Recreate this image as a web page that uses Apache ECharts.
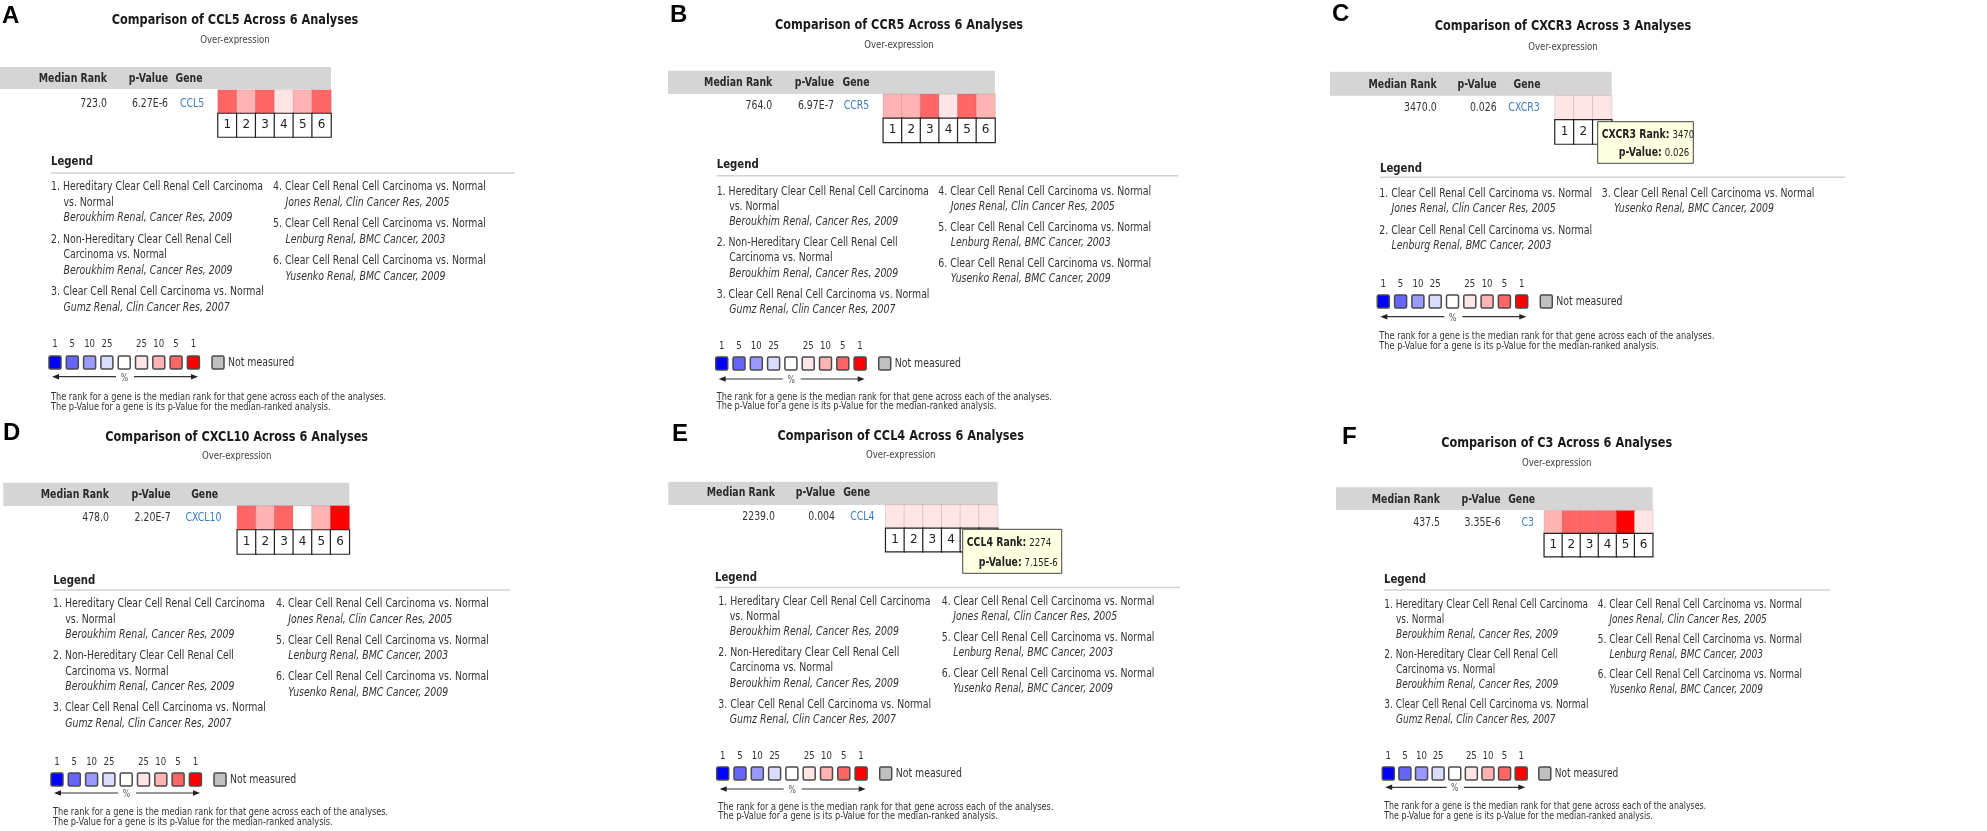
<!DOCTYPE html>
<html><head><meta charset="utf-8">
<script src="https://cdn.jsdelivr.net/npm/echarts@6/dist/echarts.min.js"></script>
<style>html,body{margin:0;padding:0;background:#fff;}#c{width:1987px;height:831px;}</style>
</head><body><div id="c"></div>
<script>
// ---------------- data ----------------
const panelLetters = ['A', 'B', 'C', 'D', 'E', 'F'];
const genes = ['CCL5', 'CCR5', 'CXCR3', 'CXCL10', 'CCL4', 'C3'];
const analysisCounts = [6, 6, 3, 6, 6, 6];
const medianRanks = ['723.0', '764.0', '3470.0', '478.0', '2239.0', '437.5'];
const pValues = ['6.27E-6', '6.97E-7', '0.026', '2.20E-7', '0.004', '3.35E-6'];
// percentile bin of the gene in each analysis (1, 5, 10, 25 = top %; 100 = outside top 25%)
const binsCCL5 = [5, 10, 5, 25, 10, 5];
const binsCCR5 = [10, 10, 5, 25, 5, 10];
const binsCXCR3 = [25, 25, 25];
const binsCXCL10 = [5, 10, 5, 100, 10, 1];
const binsCCL4 = [25, 25, 25, 25, 25, 25];
const binsC3 = [10, 5, 5, 5, 1, 25];
const analysisLabels = ['1', '2', '3', '4', '5', '6'];
const tooltipGenes = ['CXCR3', 'CCL4'];
const tooltipRanks = ['3470', '2274'];
const tooltipPValues = ['0.026', '7.15E-6'];
const scaleTickLabels = ['1', '5', '10', '25', '', '25', '10', '5', '1'];
const legendEntriesSix = [
  ['1. Hereditary Clear Cell Renal Cell Carcinoma', 'vs. Normal', 'Beroukhim Renal, Cancer Res, 2009'],
  ['2. Non-Hereditary Clear Cell Renal Cell', 'Carcinoma vs. Normal', 'Beroukhim Renal, Cancer Res, 2009'],
  ['3. Clear Cell Renal Cell Carcinoma vs. Normal', 'Gumz Renal, Clin Cancer Res, 2007'],
  ['4. Clear Cell Renal Cell Carcinoma vs. Normal', 'Jones Renal, Clin Cancer Res, 2005'],
  ['5. Clear Cell Renal Cell Carcinoma vs. Normal', 'Lenburg Renal, BMC Cancer, 2003'],
  ['6. Clear Cell Renal Cell Carcinoma vs. Normal', 'Yusenko Renal, BMC Cancer, 2009']
];
const legendEntriesThree = [
  ['1. Clear Cell Renal Cell Carcinoma vs. Normal', 'Jones Renal, Clin Cancer Res, 2005'],
  ['2. Clear Cell Renal Cell Carcinoma vs. Normal', 'Lenburg Renal, BMC Cancer, 2003'],
  ['3. Clear Cell Renal Cell Carcinoma vs. Normal', 'Yusenko Renal, BMC Cancer, 2009']
];
const footnoteLines = [
  'The rank for a gene is the median rank for that gene across each of the analyses.',
  'The p-Value for a gene is its p-Value for the median-ranked analysis.'
];

const panelBins = [binsCCL5, binsCCR5, binsCXCR3, binsCXCL10, binsCCL4, binsC3];
const panelLegends = [legendEntriesSix, legendEntriesSix, legendEntriesThree, legendEntriesSix, legendEntriesSix, legendEntriesSix];

// ---------------- layout ----------------
const SX = 0.78;
const FF = "'DejaVu Sans'";
const LAY = [
  {lx:2, ly:16, tx:235, ty:20, sy:40, bar:[0,331,67,89], hy:79, c1:107, c2:168, gh:189, gd:192, ry:103.5, cells:[218,331,90,137], lgx:51, lgy:161.5, rule:173, rx2:515, y0:187, x1:51, x2:273, ind:12.5, lh:15.5, gap:6, sn:344, sq:356, sx0:49, ay:376.7, f1:397, f2:407, k:1},
  {lx:670, ly:15, tx:899, ty:25, sy:45, bar:[668,995,70.7,94], hy:82.7, c1:772.3, c2:834, gh:856, gd:856.5, ry:106, cells:[883.3,995,94.3,142.3], lgx:716.7, lgy:165, rule:175.7, rx2:1178, y0:191.7, x1:716.7, x2:938.3, ind:12.5, lh:15.2, gap:5.8, sn:346, sq:357, sx0:715.7, ay:379, f1:397.3, f2:406.7, k:1},
  {lx:1332, ly:14.5, tx:1563, ty:26.7, sy:46.7, bar:[1330,1611.7,71.7,95.7], hy:85, c1:1436.7, c2:1496.7, gh:1527, gd:1524, ry:107.5, cells:[1555,1611.7,95.7,144], lgx:1380, lgy:168.3, rule:177.3, rx2:1845, y0:194, x1:1379.3, x2:1601.7, ind:12.3, lh:15.3, gap:6, sn:284.3, sq:295, sx0:1377.3, ay:316.7, f1:336, f2:346.7, k:1,
   tip:{k:0, box:[1597.7,1693.3,121.7,163.3], y1:135, y2:153}},
  {lx:3, ly:433, tx:236.7, ty:437.3, sy:455.7, bar:[3.3,349.3,482.7,506], hy:495, c1:109, c2:170.7, gh:204.7, gd:203.5, ry:518, cells:[237.3,349.3,506,554], lgx:53.3, lgy:580.7, rule:590, rx2:510, y0:604, x1:53, x2:276, ind:12.3, lh:15.5, gap:5.5, sn:762, sq:773, sx0:51, ay:793, f1:812, f2:822, k:1},
  {lx:672, ly:434, tx:900.7, ty:436.7, sy:455, bar:[668.3,997.7,481.7,505], hy:492.7, c1:775, c2:835, gh:856.7, gd:862.3, ry:516.7, cells:[885.7,997.7,505,551.7], lgx:715, lgy:578, rule:587.5, rx2:1180, y0:601.7, x1:718.3, x2:941.7, ind:11.5, lh:15.2, gap:5.8, sn:756, sq:767, sx0:716.7, ay:789, f1:807.3, f2:816.7, k:1,
   tip:{k:1, box:[962.7,1061.7,529.3,573.3], y1:543.3, y2:563.3}},
  {lx:1342, ly:437.5, tx:1556.7, ty:443.3, sy:462.7, bar:[1336,1652.7,487.3,510], hy:500, c1:1440, c2:1500.7, gh:1521.7, gd:1527.7, ry:522.5, cells:[1544.3,1652.7,510.7,556.7], lgx:1384, lgy:580, rule:590, rx2:1830, y0:605, x1:1384.3, x2:1597.7, ind:11.7, lh:15, gap:5, sn:755.7, sq:767, sx0:1382.3, ay:787.3, f1:806.7, f2:816, k:0.96}
];
const SWATCH = ['#0000ff','#6666ff','#9999ff','#dcdcff','#ffffff','#ffe5e5','#ffb3b3','#ff6666','#ff0000'];

function T(x, y, text, font, fill, align, sx) {
  return {type:'text', x:x, y:y, scaleX:(sx || SX), silent:true, z:10,
    style:{text:text, font:font, fill:fill || '#333', align:align || 'left', verticalAlign:'middle'}};
}

const graphics = [];
const grids = [], xAxes = [], yAxes = [], series = [], rankSeriesIdx = [];

LAY.forEach(function (p, i) {
  const n = analysisCounts[i];
  const k = p.k, LSX = SX * p.k;
  // panel letter
  graphics.push({type:'text', x:p.lx, y:p.ly, silent:true, z:10,
    style:{text:panelLetters[i], font:"bold 24px 'Liberation Sans'", fill:'#000', align:'left', verticalAlign:'middle'}});
  // title
  graphics.push(T(p.tx, p.ty, 'Comparison of ' + genes[i] + ' Across ' + n + ' Analyses', 'bold 14.5px ' + FF, '#1a1a1a', 'center'));
  graphics.push(T(p.tx, p.sy, 'Over-expression', '11px ' + FF, '#444', 'center'));
  // header bar
  graphics.push({type:'rect', silent:true, z:1, shape:{x:p.bar[0], y:p.bar[2], width:p.bar[1]-p.bar[0], height:p.bar[3]-p.bar[2]}, style:{fill:'#d5d5d5'}});
  graphics.push(T(p.c1, p.hy, 'Median Rank', 'bold 12px ' + FF, '#2a2a2a', 'right'));
  graphics.push(T(p.c2, p.hy, 'p-Value', 'bold 12px ' + FF, '#2a2a2a', 'right'));
  graphics.push(T(p.gh, p.hy, 'Gene', 'bold 12px ' + FF, '#2a2a2a', 'center'));
  // data row
  graphics.push(T(p.c1, p.ry, medianRanks[i], '12px ' + FF, '#333', 'right'));
  graphics.push(T(p.c2, p.ry, pValues[i], '12px ' + FF, '#333', 'right'));
  graphics.push(T(p.gd, p.ry, genes[i], '12px ' + FF, '#3b7bbf', 'center'));

  // heatmap grid
  grids.push({left:p.cells[0], top:p.cells[2], width:p.cells[1]-p.cells[0], height:p.cells[3]-p.cells[2], containLabel:false});
  xAxes.push({gridIndex:i, type:'category', data:analysisLabels.slice(0, n), show:false});
  yAxes.push({gridIndex:i, type:'category', data:['num', 'rank'], show:false});
  rankSeriesIdx.push(series.length);
  series.push({type:'heatmap', xAxisIndex:i, yAxisIndex:i, silent:true,
    data: panelBins[i].map(function (v, j) { return [j, 1, v]; }),
    itemStyle:{borderColor:'rgba(150,100,100,0.22)', borderWidth:1}});
  series.push({type:'heatmap', xAxisIndex:i, yAxisIndex:i, silent:true,
    data: analysisLabels.slice(0, n).map(function (v, j) { return [j, 0, +v]; }),
    itemStyle:{color:'#ffffff', borderColor:'#222', borderWidth:1.2},
    label:{show:true, formatter:function (q) { return String(q.value[2]); }, color:'#222', fontSize:12, fontFamily:'DejaVu Sans'}});

  // tooltip
  if (p.tip) {
    const b = p.tip.box, tk = p.tip.k;
    graphics.push({type:'rect', silent:true, z:100, shape:{x:b[0], y:b[2], width:b[1]-b[0], height:b[3]-b[2]}, style:{fill:'#ffffe1', stroke:'#444', lineWidth:1}});
    const rich = {b:{font:'bold 12px ' + FF, fill:'#222'}, n:{font:'11px ' + FF, fill:'#222'}};
    graphics.push({type:'text', x:b[0]+4, y:p.tip.y1, scaleX:SX, silent:true, z:101,
      style:{text:'{b|' + tooltipGenes[tk] + ' Rank:} {n|' + tooltipRanks[tk] + '}', rich:rich, font:'12px ' + FF, align:'left', verticalAlign:'middle'}});
    graphics.push({type:'text', x:b[1]-4, y:p.tip.y2, scaleX:SX, silent:true, z:101,
      style:{text:'{b|p-Value:} {n|' + tooltipPValues[tk] + '}', rich:rich, font:'12px ' + FF, align:'right', verticalAlign:'middle'}});
  }

  // legend heading + rule
  graphics.push(T(p.lgx, p.lgy, 'Legend', 'bold 13px ' + FF, '#222', 'left'));
  graphics.push({type:'line', silent:true, z:1, shape:{x1:p.lgx, y1:p.rule, x2:p.rx2, y2:p.rule}, style:{stroke:'#d2d2d2', lineWidth:1.6}});

  // legend entries in two columns
  const ent = panelLegends[i];
  const split = Math.ceil(ent.length / 2);
  [ent.slice(0, split), ent.slice(split)].forEach(function (col, c) {
    let y = p.y0;
    const x = c === 0 ? p.x1 : p.x2;
    col.forEach(function (e) {
      e.forEach(function (line, li) {
        const last = li === e.length - 1;
        graphics.push(T(li === 0 ? x : x + p.ind, y, line, (last ? 'italic ' : '') + '12px ' + FF, '#333', 'left', LSX));
        y += p.lh;
      });
      y += p.gap;
    });
  });

  // colour key
  SWATCH.forEach(function (col, s) {
    const sx = p.sx0 + s * 17.3 * k;
    graphics.push({type:'rect', silent:true, z:5, shape:{x:sx, y:p.sq, width:12, height:13, r:1.5}, style:{fill:col, stroke:'#4a4a4a', lineWidth:1.5}});
    if (scaleTickLabels[s]) graphics.push(T(sx + 6, p.sn, scaleTickLabels[s], '11px ' + FF, '#333', 'center'));
  });
  const gx = p.sx0 + 163 * k;
  graphics.push({type:'rect', silent:true, z:5, shape:{x:gx, y:p.sq, width:12, height:13, r:1.5}, style:{fill:'#c0c0c0', stroke:'#4a4a4a', lineWidth:1.5}});
  graphics.push(T(gx + 16, p.sq + 6.5, 'Not measured', '12px ' + FF, '#333', 'left', LSX));
  // arrows
  const a = p.ay, x0 = p.sx0;
  graphics.push({type:'line', silent:true, z:5, shape:{x1:x0+8*k, y1:a, x2:x0+67*k, y2:a}, style:{stroke:'#333', lineWidth:1.2}});
  graphics.push({type:'polygon', silent:true, z:5, shape:{points:[[x0+3*k,a],[x0+3*k+7,a-2.8],[x0+3*k+7,a+2.8]]}, style:{fill:'#222'}});
  graphics.push(T(x0 + 75.5*k, a + 1.5, '%', '10px ' + FF, '#555', 'center'));
  graphics.push({type:'line', silent:true, z:5, shape:{x1:x0+85*k, y1:a, x2:x0+143*k, y2:a}, style:{stroke:'#333', lineWidth:1.2}});
  graphics.push({type:'polygon', silent:true, z:5, shape:{points:[[x0+149*k,a],[x0+149*k-7,a-2.8],[x0+149*k-7,a+2.8]]}, style:{fill:'#222'}});
  // footnotes
  graphics.push(T(p.x1, p.f1, footnoteLines[0], '10.5px ' + FF, '#333', 'left', LSX));
  graphics.push(T(p.x1, p.f2, footnoteLines[1], '10.5px ' + FF, '#333', 'left', LSX));
});

const chart = echarts.init(document.getElementById('c'), null, {renderer:'canvas'});
chart.setOption({
  animation:false,
  backgroundColor:'#ffffff',
  grid:grids, xAxis:xAxes, yAxis:yAxes,
  visualMap:{type:'piecewise', show:false, seriesIndex:rankSeriesIdx, dimension:2,
    pieces:[{value:1, color:'#ff0000'}, {value:5, color:'#ff6666'}, {value:10, color:'#ffb3b3'}, {value:25, color:'#ffe5e5'}, {value:100, color:'#ffffff'}]},
  series:series,
  graphic:{elements:graphics}
});
</script></body></html>
